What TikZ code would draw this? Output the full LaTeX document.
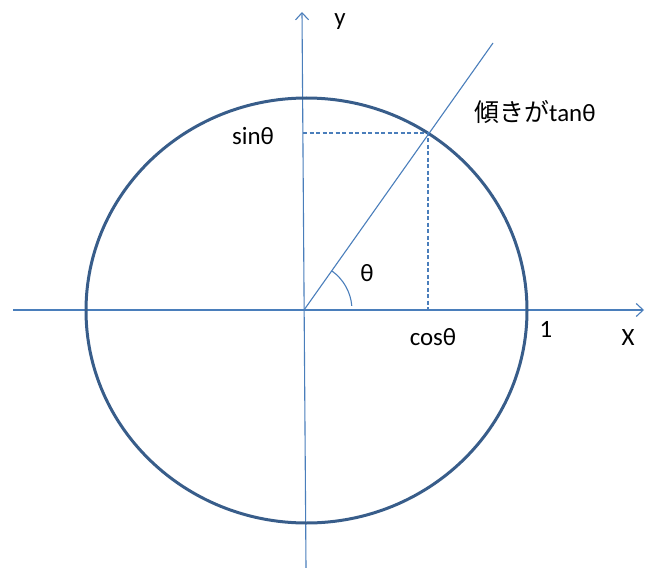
\documentclass[tikz,border=0pt]{standalone}
\usepackage{fontspec}
\setmainfont{Carlito}
\newfontfamily\jpfont{Noto Sans CJK JP}
\definecolor{axisblue}{HTML}{4A7EBB}
\definecolor{circleblue}{HTML}{385D8A}
\usetikzlibrary{arrows.meta}

\begin{document}
\begin{tikzpicture}[x=1bp,y=-1bp,>={Straight Barb[length=7bp,width=13bp]},
  every node/.style={font=\fontsize{25}{28}\selectfont,inner sep=0pt},
  axis/.style={axisblue,line width=1.1bp},
  guide/.style={axisblue,line width=1.3bp,dash pattern=on 4bp off 2.5bp}]
\useasboundingbox (0,0) rectangle (654,568);
\coordinate (O) at (304,310);
\coordinate (XL) at (13,310);
\coordinate (XR) at (644,310);
\coordinate (YB) at (306,568);
\coordinate (YT) at (302,12);
\coordinate (P) at (428,133);
\coordinate (T) at (493,43);
\coordinate (PX) at (428,310);
\coordinate (PY) at (303,133);
\draw[->,axis] (XL) -- (XR);
\draw[->,axis] (YB) -- (YT);
\draw[circleblue,line width=3bp] (306.5,310.5) ellipse [x radius=220.5,y radius=212.5];
\draw[axis] (O) -- (T);
\draw[guide] (PY) -- (P) -- (PX);
\draw[axis] (351.8,305.8) arc[start angle=-5,end angle=-54,radius=48];
\node (ylab) at (340,22) {y};
\node (xlab) at (628,338) {X};
\node (one) at (546,329) {1};
\node (cos) at (433,337) {cosθ};
\node (sin) at (253,136) {sinθ};
\node (theta) at (367,273) {θ};
\node (slope) at (535,112) {{\jpfont 傾きが}tanθ};
\end{tikzpicture}
\end{document}
